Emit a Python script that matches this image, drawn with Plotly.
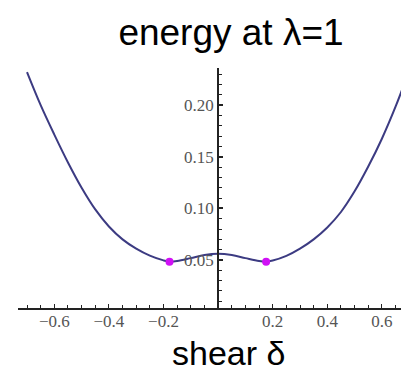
import plotly.graph_objects as go

# Energy curve at lambda = 1 as a function of the shear delta
shear = [-0.70, -0.65, -0.60, -0.55, -0.50, -0.45, -0.40, -0.35, -0.30, -0.25,
         -0.20, -0.177, -0.15, -0.10, -0.05, 0.00, 0.05, 0.10, 0.15, 0.177,
         0.20, 0.25, 0.30, 0.35, 0.40, 0.45, 0.50, 0.55, 0.60, 0.65, 0.70]
energy = [0.2320, 0.2000, 0.1715, 0.1445, 0.1200, 0.0990, 0.0825, 0.0700, 0.0610, 0.0542,
          0.0496, 0.0484, 0.0490, 0.0518, 0.0548, 0.0560, 0.0548, 0.0518, 0.0490, 0.0484,
          0.0495, 0.0540, 0.0610, 0.0700, 0.0815, 0.0965, 0.1165, 0.1405, 0.1675, 0.1985, 0.2335]

# The two minima
min_shear = [-0.178, 0.176]
min_energy = [0.0484, 0.0484]

x_ticks = [-0.6, -0.4, -0.2, 0.2, 0.4, 0.6]
x_tick_text = ["\u22120.6", "\u22120.4", "\u22120.2", "0.2", "0.4", "0.6"]
y_ticks = [0.05, 0.10, 0.15, 0.20]
y_tick_text = ["0.05", "0.10", "0.15", "0.20"]

W, H = 401, 371
L, R, T, B = 18, 0, 68, 63

fig = go.Figure()
fig.add_trace(go.Scatter(
    x=shear, y=energy, mode="lines", line=dict(color="#3c3b82", width=2, shape="spline"),
    hoverinfo="skip", showlegend=False, cliponaxis=True,
))
fig.add_trace(go.Scatter(
    x=min_shear, y=min_energy, mode="markers",
    marker=dict(color="#d010f5", size=8, line=dict(width=0)),
    showlegend=False,
))

tick_font = dict(family="Liberation Serif", size=17, color="#555555")
axis_color = "#222222"

fig.update_layout(
    width=W, height=H,
    margin=dict(l=L, r=R, t=T, b=B, pad=0),
    paper_bgcolor="white", plot_bgcolor="white",
    title=dict(text="energy at \u03bb=1", x=231 / W, xanchor="center",
               y=1 - 32 / H, yanchor="middle",
               font=dict(family="Liberation Sans", size=37, color="black")),
    xaxis=dict(
        range=[-0.733, 0.67], showgrid=False, zeroline=False,
        showline=True, linecolor=axis_color, linewidth=1.5,
        tickmode="array", tickvals=x_ticks, ticktext=x_tick_text,
        ticks="inside", ticklen=4, tickwidth=1, tickcolor=axis_color,
        minor=dict(dtick=0.05, tick0=0, ticks="inside", ticklen=3, tickwidth=1,
                   tickcolor=axis_color, showgrid=False),
        tickfont=tick_font, ticklabelstandoff=-3,
    ),
    yaxis=dict(
        range=[0.0035, 0.236], showgrid=False, zeroline=False,
        anchor="free", position=(218 - L) / (W - L - R), side="left",
        showline=True, linecolor=axis_color, linewidth=1.5,
        tickmode="array", tickvals=y_ticks, ticktext=y_tick_text,
        ticks="inside", ticklen=4, tickwidth=1.5, tickcolor=axis_color,
        minor=dict(dtick=0.01, tick0=0, ticks="inside", ticklen=3, tickwidth=1,
                   tickcolor=axis_color, showgrid=False),
        tickfont=tick_font,
    ),
    annotations=[dict(
        text="shear \u03b4", xref="paper", yref="paper",
        x=(228 - L) / (W - L - R), y=(308 - 353) / (H - T - B),
        xanchor="center", yanchor="middle", showarrow=False,
        font=dict(family="Liberation Sans", size=34, color="black"),
    )],
)

fig.write_html("out.html")
